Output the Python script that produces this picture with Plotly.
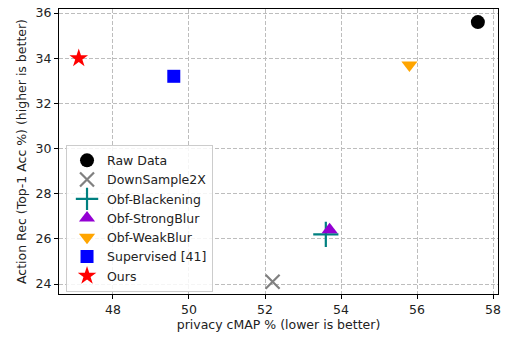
import plotly.graph_objects as go

methods = ["Raw Data", "DownSample2X", "Obf-Blackening", "Obf-StrongBlur",
           "Obf-WeakBlur", "Supervised [41]", "Ours"]
privacy_cmap = [57.6, 52.2, 53.6, 53.7, 55.8, 49.6, 47.1]
action_acc = [35.6, 24.1, 26.2, 26.4, 33.7, 33.2, 34.0]

symbols = ["circle", "x-thin", "cross-thin", "triangle-up", "triangle-down", "square", "star"]
colors = ["black", "gray", "teal", "darkviolet", "orange", "blue", "red"]
sizes = [14, 14, 18, 14, 14, 13, 14]

x_ticks = [48, 50, 52, 54, 56, 58]
y_ticks = [24, 26, 28, 30, 32, 34, 36]

fig = go.Figure()
for m, x, y, s, c, sz in zip(methods, privacy_cmap, action_acc, symbols, colors, sizes):
    thin = s.endswith("-thin")
    fig.add_trace(go.Scatter(
        x=[x], y=[y], mode="markers", name=m,
        marker=dict(symbol=s, color=c, size=sz,
                    line=dict(color=c, width=2.2 if thin else 0)),
    ))

font = "DejaVu Sans, sans-serif"
grid = dict(showgrid=True, gridcolor="#bdbdbd", griddash="4px,2px", gridwidth=1,
            showline=True, linecolor="black", linewidth=1, mirror=True,
            ticks="outside", ticklen=4, tickcolor="black", zeroline=False,
            tickfont=dict(size=12.5), automargin=False)
fig.update_layout(
    width=507, height=339,
    margin=dict(l=59, r=9, t=9, b=45),
    paper_bgcolor="white", plot_bgcolor="white",
    font=dict(family=font, size=12, color="#222"),
    showlegend=True,
    legend=dict(x=0.016, y=0.008, xanchor="left", yanchor="bottom",
                bgcolor="rgba(255,255,255,0.85)", bordercolor="#cccccc", borderwidth=1,
                font=dict(family=font, size=12.5, color="#222"),
                itemsizing="trace", tracegroupgap=0),
    xaxis=dict(range=[46.58, 58.13], tickvals=x_ticks,
               title=dict(text="privacy cMAP % (lower is better)", standoff=4,
                          font=dict(size=12.5)),
               **grid),
    yaxis=dict(range=[23.56, 36.18], tickvals=y_ticks,
               title=dict(text="Action Rec (Top-1 Acc %) (higher is better)", standoff=6,
                          font=dict(size=12.5)),
               **grid),
)

fig.write_html("out.html", config={"displayModeBar": False},
               post_script="document.body.style.margin='0';")
